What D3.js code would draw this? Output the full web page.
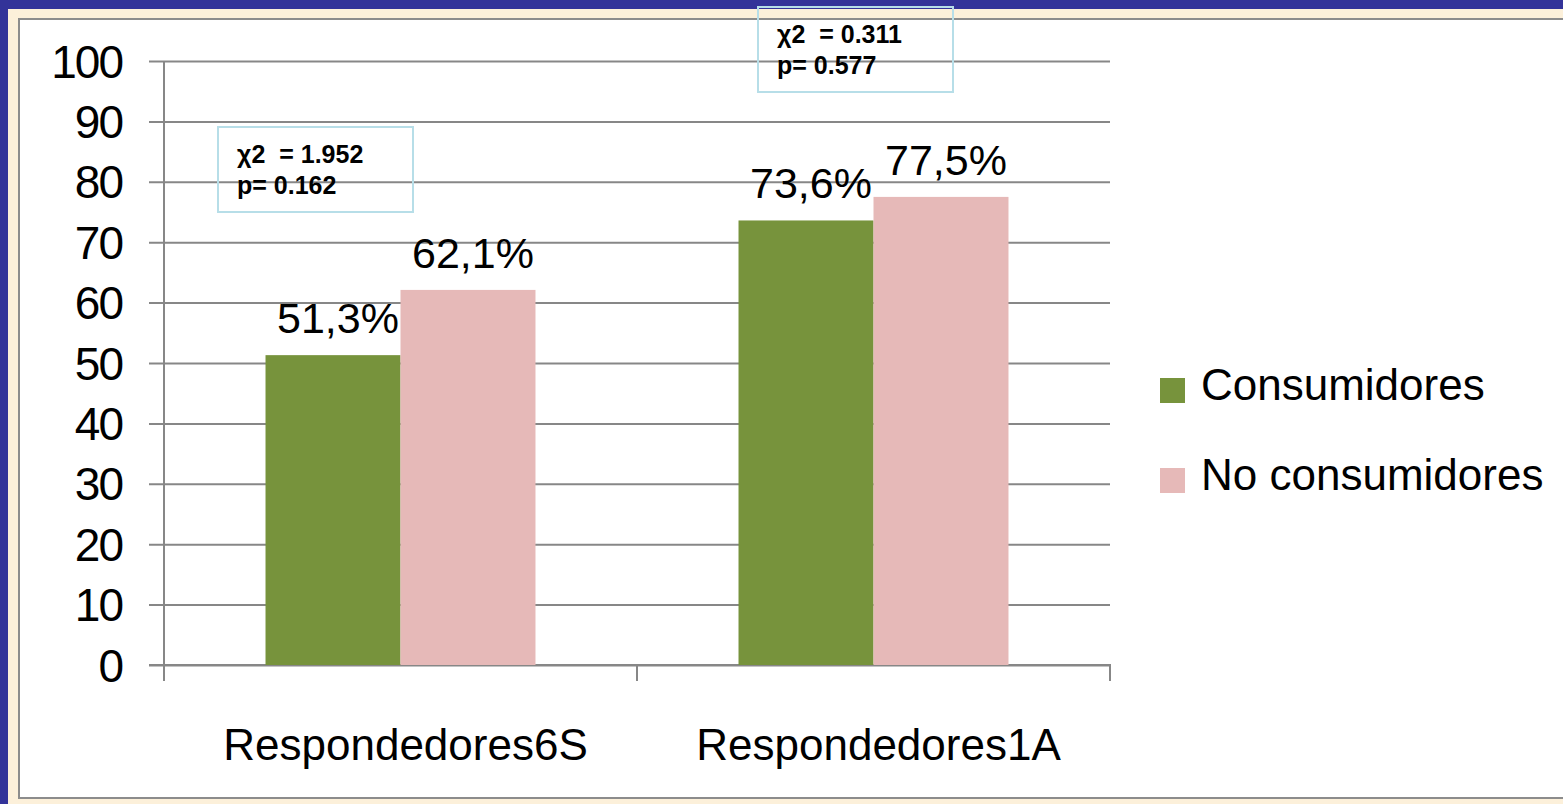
<!DOCTYPE html>
<html>
<head>
<meta charset="utf-8">
<script src="https://cdn.jsdelivr.net/npm/d3@7/dist/d3.min.js"></script>
<style>
  html, body { margin: 0; padding: 0; background: #ffffff; }
  svg { display: block; font-family: "Liberation Sans", Arial, sans-serif; }
</style>
</head>
<body>
<svg id="chart" width="1563" height="804"></svg>
<script>
// Response rates (%) by consumption group
const categories = ["Respondedores6S", "Respondedores1A"];
const seriesNames = ["Consumidores", "No consumidores"];
const consumidores = [51.3, 73.6];
const noConsumidores = [62.1, 77.5];
const valueLabels = [["51,3%", "73,6%"], ["62,1%", "77,5%"]];
const yTicks = [0, 10, 20, 30, 40, 50, 60, 70, 80, 90, 100];
const statLines = [["χ2  = 1.952", "p= 0.162"], ["χ2  = 0.311", "p= 0.577"]];

const colors = ["#77933C", "#E6B9B8"];
const grid = "#878787";

const svg = d3.select("#chart");

// Slide frame: blue band, cream band, grey-bordered white panel
svg.append("rect").attr("x", 0).attr("y", 0).attr("width", 1563).attr("height", 804).attr("fill", "#333399");
svg.append("rect").attr("x", 8).attr("y", 9).attr("width", 1555).attr("height", 795).attr("fill", "#FCF0DA");
svg.append("rect").attr("x", 19).attr("y", 19).attr("width", 1600).attr("height", 779)
  .attr("fill", "#ffffff").attr("stroke", "#8c8c8c").attr("stroke-width", 2);

const x0 = 164, x1 = 1110, yTop = 61, yBottom = 665;

const x = d3.scaleBand().domain(categories).range([x0, x1]).paddingInner(0).paddingOuter(0);
const xs = d3.scaleBand().domain(seriesNames).range([0, x.bandwidth()]).paddingInner(0).paddingOuter(0.752);
const y = d3.scaleLinear().domain([0, 100]).range([yBottom, yTop]);

// Horizontal gridlines with ticks to the left of the axis
const yAxis = d3.axisLeft(y).tickValues(yTicks).tickSize(x1 - x0 + 15).tickSizeOuter(0).tickFormat(d => d);
const gy = svg.append("g").attr("transform", `translate(${x1},0)`).call(yAxis);
gy.select(".domain").remove();
gy.selectAll(".tick line").attr("stroke", grid).attr("stroke-width", 2);
gy.selectAll(".tick text")
  .attr("x", -(x1 - 122))
  .attr("dy", "0.35em")
  .attr("fill", "#000")
  .style("font-size", "46px")
  .style("letter-spacing", "-2px")
  .style("font-family", "\"Liberation Sans\", Arial, sans-serif");

// Vertical value axis
svg.append("line").attr("x1", x0).attr("x2", x0).attr("y1", yTop).attr("y2", yBottom)
  .attr("stroke", grid).attr("stroke-width", 2);

// Category axis
const xAxis = d3.axisBottom(x).tickSize(0).tickSizeOuter(0);
const gx = svg.append("g").attr("transform", `translate(0,${yBottom})`).call(xAxis);
gx.select(".domain").remove();
gx.selectAll(".tick line").remove();
gx.selectAll(".tick text")
  .attr("y", 95).attr("dy", 0).attr("dx", 5)
  .attr("fill", "#000")
  .style("font-size", "44px")
  .style("font-family", "\"Liberation Sans\", Arial, sans-serif");
svg.append("line").attr("x1", x0 - 15).attr("x2", x1 + 1).attr("y1", yBottom).attr("y2", yBottom)
  .attr("stroke", grid).attr("stroke-width", 2);
const catEdges = [x0].concat(categories.map(c => x(c) + x.bandwidth()));
svg.selectAll("line.ctick").data(catEdges).enter().append("line").attr("class", "ctick")
  .attr("x1", d => d).attr("x2", d => d).attr("y1", yBottom).attr("y2", yBottom + 16)
  .attr("stroke", grid).attr("stroke-width", 2);

// Bars and value labels
const series = [consumidores, noConsumidores];
series.forEach((vals, si) => {
  const g = svg.append("g");
  g.selectAll("rect").data(vals).enter().append("rect")
    .attr("x", (d, i) => x(categories[i]) + xs(seriesNames[si]))
    .attr("y", d => y(d))
    .attr("width", xs.bandwidth())
    .attr("height", d => y(0) - y(d))
    .attr("fill", colors[si]);
  g.selectAll("text").data(vals).enter().append("text")
    .attr("x", (d, i) => x(categories[i]) + xs(seriesNames[si]) + xs.bandwidth() / 2 + 5)
    .attr("y", d => y(d) - 22)
    .attr("text-anchor", "middle")
    .style("font-size", "43px")
    .text((d, i) => valueLabels[si][i]);
});

// Chi-square annotation boxes
const boxes = [{ x: 218, y: 127 }, { x: 758, y: 7 }];
boxes.forEach((b, i) => {
  svg.append("rect").attr("x", b.x).attr("y", b.y).attr("width", 195).attr("height", 85)
    .attr("fill", "none").attr("stroke", "#B7DEE8").attr("stroke-width", 2);
  svg.append("text").attr("x", b.x + 19).attr("y", b.y + 36)
    .style("font-size", "25px").style("font-weight", "bold").style("white-space", "pre")
    .attr("xml:space", "preserve")
    .text(statLines[i][0]);
  svg.append("text").attr("x", b.x + 19).attr("y", b.y + 67)
    .style("font-size", "25px").style("font-weight", "bold")
    .text(statLines[i][1]);
});

// Legend
const legend = svg.append("g");
seriesNames.forEach((name, i) => {
  const cy = 390 + i * 90;
  legend.append("rect").attr("x", 1160).attr("y", cy - 12).attr("width", 25).attr("height", 25).attr("fill", colors[i]);
  legend.append("text").attr("x", 1201).attr("y", cy + 10).style("font-size", "44px").text(name);
});
</script>
</body>
</html>
